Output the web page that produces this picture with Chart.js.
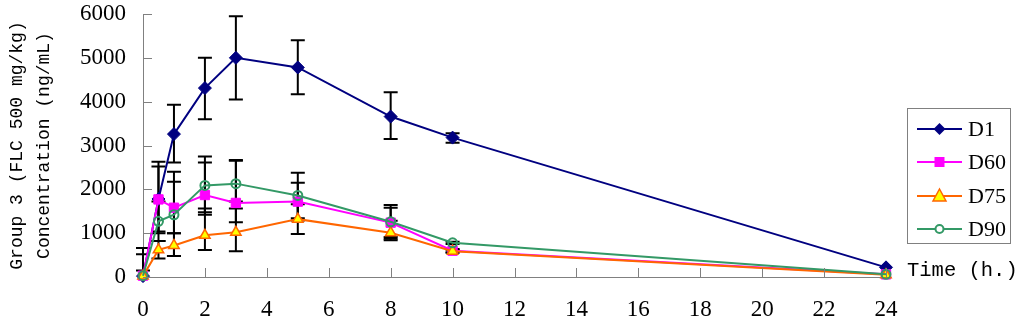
<!DOCTYPE html>
<html><head><meta charset="utf-8">
<script src="https://cdn.jsdelivr.net/npm/chart.js@4/dist/chart.umd.min.js"></script>
<style>html,body{margin:0;padding:0;background:#fff;overflow:hidden}</style>
</head><body>
<canvas id="c" width="1024" height="330" style="width:1024px;height:330px;display:block"></canvas>
<script>
// ---- data ----
const times = [0, 0.5, 1, 2, 3, 5, 8, 10, 24];
const xTicks = [0, 2, 4, 6, 8, 10, 12, 14, 16, 18, 20, 22, 24];
const yTicks = [0, 1000, 2000, 3000, 4000, 5000, 6000];
const seriesNames = ['D1', 'D60', 'D75', 'D90'];

const d1   = [20, 1780, 3260, 4310, 5000, 4780, 3660, 3180, 220];
const d1Hi = [660, 2630, 3930, 5000, 5950, 5400, 4215, 3280, null];
const d1Lo = [0, 1000, 2610, 3600, 4050, 4170, 3150, 3065, null];

const d60   = [30, 1770, 1580, 1870, 1690, 1720, 1240, 600, 60];
const d60Hi = [520, 2520, 2400, 2610, 2650, 2150, 1580, 640, null];
const d60Lo = [0, 1040, 480, 1480, 1250, 1290, 910, 560, null];

const d75   = [20, 620, 720, 950, 1020, 1320, 1010, 590, 50];
const d75Hi = [null, 820, 1000, 1560, 1720, 1660, 1285, 620, null];
const d75Lo = [null, 420, 480, 615, 590, 980, 840, 560, null];

const d90   = [30, 1270, 1420, 2090, 2130, 1860, 1260, 780, 60];
const d90Hi = [150, 1720, 2175, 2750, 2670, 2380, 1645, 805, null];
const d90Lo = [0, 820, 1000, 1420, 1560, 1340, 875, 755, null];

const yTitle = ['Group 3 (FLC 500 mg/kg)', 'Concentration (ng/mL)'];
const xTitle = 'Time (h.)';

// ---- styles ----
const styles = [
  {color: '#000080', fill: '#000080', shape: 'diamond'},
  {color: '#FF00FF', fill: '#FF00FF', shape: 'square'},
  {color: '#FF6600', fill: '#FFFF00', shape: 'triangle'},
  {color: '#339966', fill: 'rgba(0,0,0,0)', shape: 'circle'}
];
const pointCfg = {
  diamond: {pointStyle: 'rectRot', pointRadius: 6.5, pointBorderWidth: 1},
  square: {pointStyle: 'rect', pointRadius: 6.6, pointBorderWidth: 1},
  triangle: {pointStyle: 'triangle', pointRadius: 6, pointBorderWidth: 1.5},
  circle: {pointStyle: 'circle', pointRadius: 4.5, pointBorderWidth: 2}
};

const values = [d1, d60, d75, d90];
const his = [d1Hi, d60Hi, d75Hi, d90Hi];
const los = [d1Lo, d60Lo, d75Lo, d90Lo];

function mk(i) {
  const s = styles[i], p = pointCfg[s.shape];
  return Object.assign({
    label: seriesNames[i],
    data: times.map((t, k) => ({x: t, y: values[i][k]})),
    borderColor: s.color,
    backgroundColor: s.fill,
    pointBackgroundColor: s.fill,
    pointBorderColor: s.color,
    borderWidth: 2,
    tension: 0,
    order: 4 - i,
    clip: false
  }, p);
}

const GRAY = '#808080';

const extras = {
  id: 'extras',
  beforeDatasetsDraw(chart) {
    const ctx = chart.ctx, xs = chart.scales.x, ys = chart.scales.y;
    ctx.save();
    ctx.strokeStyle = '#000';
    ctx.lineWidth = 2;
    for (let i = 0; i < 4; i++) {
      for (let k = 0; k < times.length; k++) {
        const hi = his[i][k], lo = los[i][k];
        if (hi == null || lo == null) continue;
        const px = xs.getPixelForValue(times[k]);
        const yh = ys.getPixelForValue(hi), yl = ys.getPixelForValue(lo);
        ctx.beginPath();
        ctx.moveTo(px, yh); ctx.lineTo(px, yl);
        ctx.moveTo(px - 7, yh); ctx.lineTo(px + 7, yh);
        if (lo > 0) { ctx.moveTo(px - 7, yl); ctx.lineTo(px + 7, yl); }
        ctx.stroke();
      }
    }
    ctx.restore();
  },
  afterDraw(chart) {
    const ctx = chart.ctx, xs = chart.scales.x, ys = chart.scales.y;
    const a = chart.chartArea;
    ctx.save();
    // inward tick marks
    ctx.strokeStyle = GRAY; ctx.lineWidth = 1;
    ctx.beginPath();
    xTicks.forEach(v => { if (v === 0) return; const px = Math.round(xs.getPixelForValue(v)) + 0.5; ctx.moveTo(px, a.bottom); ctx.lineTo(px, a.bottom - 9); });
    yTicks.forEach(v => { const py = Math.round(ys.getPixelForValue(v)) + 0.5; ctx.moveTo(a.left, py); ctx.lineTo(a.left + 9, py); });
    ctx.stroke();
    // x title
    ctx.fillStyle = '#000';
    ctx.font = '20.5px "Liberation Mono"';
    ctx.textBaseline = 'middle';
    ctx.textAlign = 'left';
    ctx.fillText(xTitle, 907, 271);
    // legend
    const lx = 907.5, ly = 108.5, lw = 103, lh = 135;
    ctx.strokeStyle = GRAY; ctx.lineWidth = 1;
    ctx.strokeRect(lx, ly, lw, lh);
    const rows = [129, 162, 196, 229];
    for (let i = 0; i < 4; i++) {
      const s = styles[i], y = rows[i];
      ctx.strokeStyle = s.color; ctx.lineWidth = 2;
      ctx.beginPath(); ctx.moveTo(917, y); ctx.lineTo(962, y); ctx.stroke();
      const cx = 939.5;
      ctx.beginPath();
      if (s.shape === 'diamond') { ctx.moveTo(cx, y - 6); ctx.lineTo(cx + 6, y); ctx.lineTo(cx, y + 6); ctx.lineTo(cx - 6, y); ctx.closePath(); ctx.fillStyle = s.fill; ctx.fill(); }
      else if (s.shape === 'square') { ctx.rect(cx - 5, y - 5, 10, 10); ctx.fillStyle = s.fill; ctx.fill(); }
      else if (s.shape === 'triangle') { ctx.moveTo(cx, y - 7); ctx.lineTo(cx + 6.5, y + 5); ctx.lineTo(cx - 6.5, y + 5); ctx.closePath(); ctx.fillStyle = s.fill; ctx.fill(); ctx.lineWidth = 1.5; ctx.strokeStyle = s.color; ctx.stroke(); }
      else { ctx.arc(cx, y, 4, 0, Math.PI * 2); ctx.fillStyle = '#fff'; ctx.fill(); ctx.lineWidth = 2; ctx.strokeStyle = s.color; ctx.stroke(); }
      ctx.fillStyle = '#000';
      ctx.font = '22px "Liberation Serif"';
      ctx.textAlign = 'left';
      ctx.fillText(seriesNames[i], 968, y + 1);
    }
    ctx.restore();
  }
};

new Chart(document.getElementById('c'), {
  type: 'line',
  data: {datasets: [0, 1, 2, 3].map(mk)},
  options: {
    responsive: false,
    animation: false,
    devicePixelRatio: 1,
    layout: {padding: {left: 0, right: 138, top: 0, bottom: 0}},
    plugins: {legend: {display: false}, tooltip: {enabled: false}},
    scales: {
      x: {
        type: 'linear', min: 0, max: 24,
        afterBuildTicks: s => { s.ticks = xTicks.map(v => ({value: v})); },
        afterFit: s => { s.height = 53; s.paddingLeft = 0; s.paddingRight = 0; },
        grid: {display: false, drawTicks: false},
        border: {display: true, color: GRAY, width: 1},
        ticks: {color: '#000', font: {family: '"Liberation Serif"', size: 23}, padding: 19, maxRotation: 0, autoSkip: false, callback: v => String(v)}
      },
      y: {
        type: 'linear', min: 0, max: 6000,
        afterBuildTicks: s => { s.ticks = yTicks.map(v => ({value: v})); },
        afterFit: s => { s.width = 143; s.paddingTop = 14; s.paddingBottom = 0; },
        grid: {display: false, drawTicks: false},
        border: {display: true, color: GRAY, width: 1},
        ticks: {color: '#000', font: {family: '"Liberation Serif"', size: 23}, padding: 17, callback: v => String(v)},
        title: {display: true, text: yTitle, color: '#000', font: {family: '"Liberation Mono"', size: 18, lineHeight: 1.5}, padding: {top: 4, bottom: 0}}
      }
    }
  },
  plugins: [extras]
});
</script>
</body></html>
